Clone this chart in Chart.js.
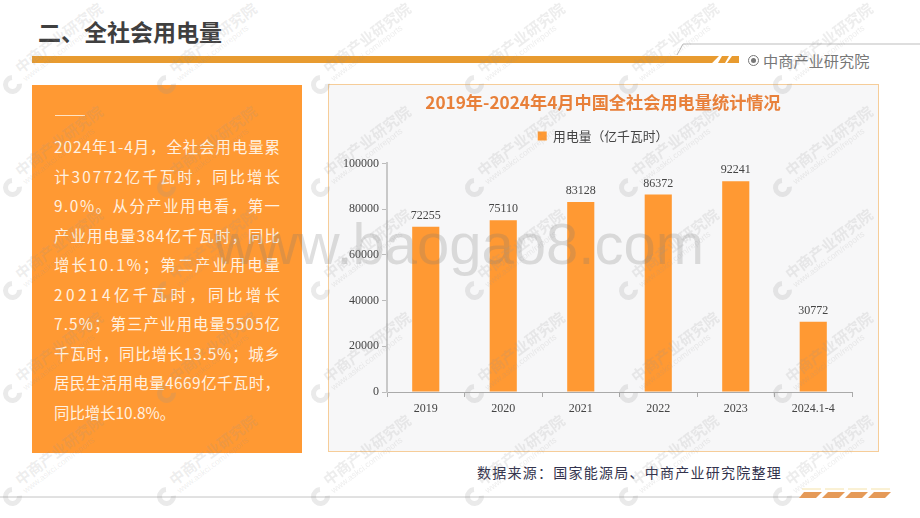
<!DOCTYPE html>
<html>
<head>
<meta charset="utf-8">
<script src="https://cdn.jsdelivr.net/npm/chart.js@4"></script>
<style>
  html, body { margin: 0; padding: 0; background: #fff; }
  #page { position: relative; width: 920px; height: 518px; overflow: hidden; font-family: "Noto Sans CJK SC", sans-serif; }
  #page > * { position: absolute; }
  .head { left: 38px; top: 13px; font-size: 23px; font-weight: 700; color: #3f3f3f; line-height: 36px; }
  .band { left: 32px; top: 56px; width: 687px; height: 7px; background: #e89b30; clip-path: polygon(0 0, 100% 0, 99% 100%, 0 100%); }
  .side { left: 32px; top: 85px; width: 270px; height: 368px; background: #ff9933; }
  .side i { position: absolute; left: 23px; top: 30px; width: 30px; height: 1px; background: #ffe3c4; }
  .side div { position: absolute; left: 22px; font-size: 15.4px; line-height: 22px; color: #fff1e0; white-space: nowrap; }
  .box { left: 328px; top: 84px; width: 549px; height: 366px; background: #f7f7f8; border: 1px solid #f6cd99; }
  canvas { position: absolute; left: 328px; top: 84px; }
  .brand { left: 763px; top: 49px; font-size: 15.2px; line-height: 22px; color: #777; }
  .dot { left: 748px; top: 55px; width: 9px; height: 9px; border: 1px solid #777; border-radius: 50%; }
  .dot2 { left: 751px; top: 58px; width: 5px; height: 5px; background: #777; border-radius: 50%; }
  .src { left: 477px; top: 461px; font-size: 14px; line-height: 22px; letter-spacing: 1.25px; color: #33334d; }
  .big { left: 214px; top: 212px; font-family: "Liberation Sans", sans-serif; font-size: 58px; line-height: 64px; color: rgba(120,120,120,.24); white-space: nowrap; }
  .wm { color: rgba(150,150,150,.17); transform-origin: 0 100%; transform: rotate(-37deg); white-space: nowrap; font-weight: 700; font-size: 15px; line-height: 16px; }
  .wm small { display: block; font-family: "Liberation Sans", sans-serif; font-size: 8.5px; line-height: 9px; font-weight: 400; }
  .ring { width: 9px; height: 9px; border: 5.5px solid rgba(150,150,150,.2); border-right-color: transparent; border-radius: 50%; transform: rotate(-50deg); }
</style>
</head>
<body>
<div id="page">
  <div class="head">二、全社会用电量</div>
  <svg style="left:0;top:0" width="920" height="518">
    <path d="M677 55 L683 44 L920 44" fill="none" stroke="#bdbdbd" stroke-width="1"/>
    <path d="M722 56 L729 56 L725 63 L718 63 Z M732 56 L739 56 L739 63 L727 63 Z" fill="#e89b30"/>
    <path d="M0 497 L800 497" stroke="#c4c4c4" stroke-width="1"/>
    <g fill="#e59a58">
      <path d="M804 492 L822 492 L816 498 L799 498 Z"/>
      <path d="M828 492 L845 492 L839 498 L822 498 Z"/>
      <path d="M851 492 L868 492 L862 498 L845 498 Z"/>
      <path d="M874 492 L891 492 L885 498 L868 498 Z"/>
    </g>
    <path d="M802 489 L891 489" stroke="#f5e2a8" stroke-width="1" stroke-dasharray="19 4"/>
  </svg>
  <div class="band"></div>
  <div class="dot"></div><div class="dot2"></div>
  <div class="brand">中商产业研究院</div>
  <div class="side" id="side"><i></i></div>
  <div class="box"></div>
  <canvas id="grafica" width="550" height="367"></canvas>
  <div class="src">数据来源：国家能源局、中商产业研究院整理</div>
  <div class="big">www.baogao8.com</div>
</div>
<script>
// --- Datos ---
const categorias = ['2019', '2020', '2021', '2022', '2023', '2024.1-4'];
const valores = [72255, 75110, 83128, 86372, 92241, 30772];
const titulo = '2019年-2024年4月中国全社会用电量统计情况';
const serie = '用电量（亿千瓦时）';
const lineas = [
  '2024年1-4月，全社会用电量累',
  '计30772亿千瓦时，同比增长',
  '9.0%。从分产业用电看，第一',
  '产业用电量384亿千瓦时，同比',
  '增长10.1%；第二产业用电量',
  '20214亿千瓦时，同比增长',
  '7.5%；第三产业用电量5505亿',
  '千瓦时，同比增长13.5%；城乡',
  '居民生活用电量4669亿千瓦时，'
];
const ultimaLinea = '同比增长10.8%。';

// --- Texto lateral: cada línea se reparte hasta el ancho de la caja ---
const side = document.getElementById('side');
lineas.concat(ultimaLinea).forEach((t, i) => {
  const d = document.createElement('div');
  d.textContent = t;
  d.style.top = (50 + i * 29.5) + 'px';
  side.appendChild(d);
  if (t !== ultimaLinea) {
    const sobra = 226 - d.getBoundingClientRect().width;
    d.style.letterSpacing = (sobra / (t.length - 1)) + 'px';
  }
});

// --- Marca de agua ---
const page = document.getElementById('page');
for (let fila = 0; fila < 6; fila++) {
  for (let col = 0; col < 6; col++) {
    const x = 13 + col * 154, y = -18 + fila * 103;
    const ring = document.createElement('div');
    ring.className = 'ring';
    ring.style.left = (x - 10) + 'px';
    ring.style.top = (y - 10) + 'px';
    page.appendChild(ring);
    const wm = document.createElement('div');
    wm.className = 'wm';
    wm.innerHTML = '中商产业研究院<small>www.askci.com/reports</small>';
    wm.style.left = (x + 14) + 'px';
    wm.style.top = (y - 27) + 'px';
    page.appendChild(wm);
  }
}

// --- Etiquetas sobre las barras ---
const etiquetas = {
  id: 'etiquetas',
  beforeInit(chart) {
    // más aire bajo la leyenda
    const fit = chart.legend.fit;
    chart.legend.fit = function () {
      fit.call(this);
      this.height += 11;
    };
  },
  afterDatasetsDraw(chart) {
    const ctx = chart.ctx;
    ctx.save();
    ctx.font = '12px "Liberation Serif"';
    ctx.fillStyle = '#444';
    ctx.textAlign = 'center';
    ctx.textBaseline = 'bottom';
    chart.getDatasetMeta(0).data.forEach((bar, i) => {
      ctx.fillText(valores[i], bar.x, bar.y - 5);
    });
    ctx.restore();
  }
};

// --- Gráfica ---
new Chart(document.getElementById('grafica'), {
  type: 'bar',
  data: {
    labels: categorias,
    datasets: [{
      label: serie,
      data: valores,
      backgroundColor: '#ff9933',
      barPercentage: 0.35,
      categoryPercentage: 1
    }]
  },
  options: {
    responsive: false,
    animation: false,
    layout: { padding: { left: 4, right: 4, top: 0, bottom: 0 } },
    plugins: {
      tooltip: { enabled: false },
      title: {
        display: true,
        text: titulo,
        color: '#e8803a',
        font: { family: '"Noto Sans CJK SC"', size: 17.2, weight: 'bold' },
        padding: { top: 8, bottom: 9 }
      },
      legend: {
        display: true,
        position: 'top',
        labels: {
          color: '#444',
          boxWidth: 9,
          boxHeight: 9,
          padding: 8,
          font: { family: '"Noto Sans CJK SC"', size: 12.8 }
        }
      }
    },
    scales: {
      x: {
        afterFit(s) { s.height = 59; },
        grid: { offset: true, drawOnChartArea: false, color: '#aaa', tickLength: 5 },
        border: { color: '#aaa' },
        ticks: { color: '#444', font: { family: '"Liberation Serif"', size: 12 }, padding: 5, maxRotation: 0 }
      },
      y: {
        min: 0,
        max: 100000,
        afterFit(s) { s.width = 55; },
        grid: { drawOnChartArea: false, color: '#bbb', tickLength: 5 },
        border: { color: '#c8c8c8', width: 2 },
        ticks: { stepSize: 20000, color: '#444', font: { family: '"Liberation Serif"', size: 12 }, padding: 3, callback: v => String(v) }
      },
      // eje vacío a la derecha: deja el título y la leyenda centrados en el panel
      derecha: {
        position: 'right',
        afterFit(s) { s.width = 22; },
        grid: { display: false },
        border: { display: false },
        ticks: { display: false }
      }
    }
  },
  plugins: [etiquetas]
});
</script>
</body>
</html>
